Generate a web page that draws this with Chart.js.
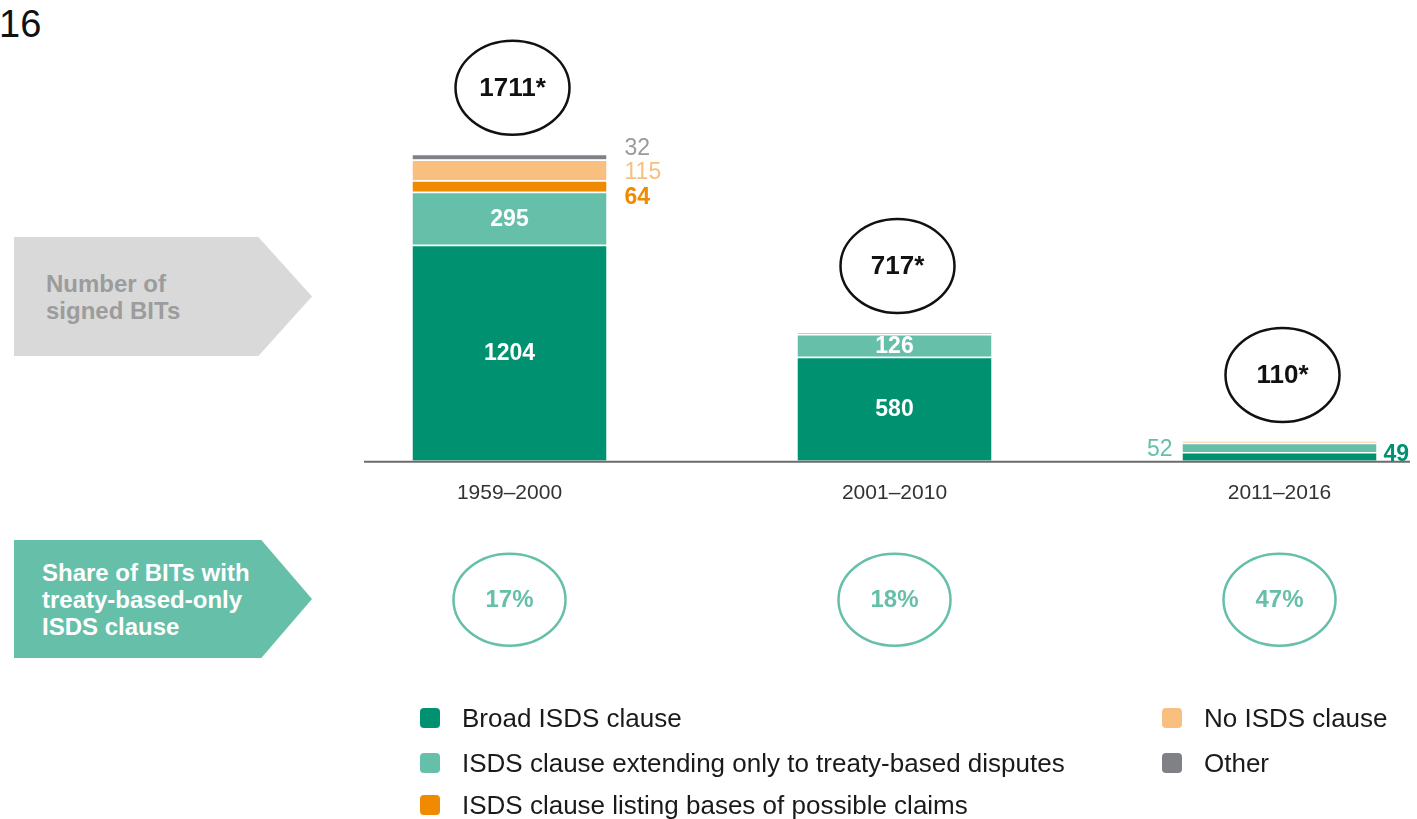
<!doctype html>
<html>
<head>
<meta charset="utf-8">
<title>Signed BITs by type of ISDS clause</title>
<script src="https://cdn.jsdelivr.net/npm/chart.js"></script>
<style>
  html,body{margin:0;padding:0;background:#fff;overflow:hidden}
  body{width:1417px;height:819px;position:relative;font-family:"Liberation Sans",Arial,sans-serif}
  #fignum{position:absolute;left:-1px;top:2px;font-size:38px;color:#111;line-height:44px}
  .tag{position:absolute;left:14px;width:298px;display:flex;align-items:center;box-sizing:border-box;font-weight:bold;font-size:24px;line-height:27px}
  #tagCount{top:237px;height:119px;padding-left:32px;background:#d9d9d9;color:#9c9c9c;clip-path:polygon(0 0,82% 0,100% 50%,82% 100%,0 100%)}
  #tagShare{top:540px;height:118px;padding-left:28px;background:#66bfa9;color:#fff;clip-path:polygon(0 0,83% 0,100% 50%,83% 100%,0 100%)}
  #wrap{position:absolute;left:317px;top:0;width:1160px;height:819px}
  .lg{position:absolute;font-size:26px;color:#1a1a1a;line-height:30px;white-space:nowrap}
  .lg i{position:absolute;left:-42px;top:5px;width:20px;height:20px;border-radius:4px}
</style>
</head>
<body>
<div id="fignum">16</div>
<div class="tag" id="tagCount">Number of<br>signed BITs</div>
<div class="tag" id="tagShare">Share of BITs with<br>treaty-based-only<br>ISDS clause</div>
<div id="wrap"><canvas id="c" width="1160" height="819"></canvas></div>
<div id="legend"></div>
<script>
const periods = ['1959–2000', '2001–2010', '2011–2016'];
const broadIsds = [1204, 580, 49];
const treatyOnly = [295, 126, 52];
const listingBases = [64, 0, 0];
const noIsds = [115, 11, 9];
const other = [32, 0, 0];
const totals = [1711, 717, 110];
const treatyOnlyShare = [17, 18, 47];

const seriesNames = ['Broad ISDS clause', 'ISDS clause extending only to treaty-based disputes',
  'ISDS clause listing bases of possible claims', 'No ISDS clause', 'Other'];
const colors = ['#009270', '#66bfa9', '#f08a00', '#f9bf7f', '#808184'];
const labelColors = ['#009270', '#66bfa9', '#f08a00', '#f9bf7f', '#9a9a9a'];

const FONT = '"Liberation Sans", Arial, sans-serif';

// legend (html, two columns)
const legendPos = [[462, 703], [462, 748], [462, 790], [1204, 703], [1204, 748]];
const legend = document.getElementById('legend');
seriesNames.forEach((name, i) => {
  const d = document.createElement('div');
  d.className = 'lg';
  d.style.left = legendPos[i][0] + 'px';
  d.style.top = legendPos[i][1] + 'px';
  d.innerHTML = '<i style="background:' + colors[i] + '"></i>' + name;
  legend.appendChild(d);
});

function stackTop(chart, idx) {
  let top = Infinity;
  chart.data.datasets.forEach((ds, di) => {
    const el = chart.getDatasetMeta(di).data[idx];
    if (el && ds.data[idx] > 0) top = Math.min(top, el.y);
  });
  return top;
}

const extras = {
  id: 'extras',
  afterDatasetsDraw(chart) {
    const ctx = chart.ctx;
    const area = chart.chartArea;
    ctx.save();

    // baseline
    ctx.strokeStyle = '#6b6b6b';
    ctx.lineWidth = 2;
    ctx.beginPath();
    ctx.moveTo(area.left + 47, area.bottom + 1);
    ctx.lineTo(area.left + 1093, area.bottom + 1);
    ctx.stroke();

    ctx.textBaseline = 'middle';
    // segment labels
    chart.data.datasets.forEach((ds, di) => {
      chart.getDatasetMeta(di).data.forEach((bar, i) => {
        const v = ds.data[i];
        if (!v) return;
        const h = bar.base - bar.y;
        const cy = (bar.y + bar.base) / 2;
        const half = bar.width / 2;
        if (di < 2 && h > 16) {
          ctx.fillStyle = '#fff';
          ctx.font = 'bold 23px ' + FONT;
          ctx.textAlign = 'center';
          ctx.fillText(v, bar.x, cy + 1);
        } else if (i === 0) {
          const shift = [0, 0, 12, 3, -8][di];
          ctx.fillStyle = labelColors[di];
          ctx.font = (di === 2 ? 'bold ' : '') + '23px ' + FONT;
          ctx.textAlign = 'left';
          ctx.fillText(v, bar.x + half + 18, cy + shift);
        } else if (di === 0) {
          ctx.fillStyle = labelColors[0];
          ctx.font = 'bold 23px ' + FONT;
          ctx.textAlign = 'left';
          ctx.fillText(v, bar.x + half + 7, cy - 2);
        } else if (di === 1) {
          ctx.fillStyle = labelColors[1];
          ctx.font = '23px ' + FONT;
          ctx.textAlign = 'right';
          ctx.fillText(v, bar.x - half - 10, cy + 2);
        }
      });
    });

    // totals in ellipses and shares in circles
    const meta = chart.getDatasetMeta(0);
    meta.data.forEach((bar, i) => {
      const ty = stackTop(chart, i) - 66;
      ctx.strokeStyle = '#111';
      ctx.lineWidth = 2.5;
      ctx.beginPath();
      ctx.ellipse(bar.x + 3, ty, 57, 47, 0, 0, Math.PI * 2);
      ctx.stroke();
      ctx.fillStyle = '#111';
      ctx.font = 'bold 26px ' + FONT;
      ctx.textAlign = 'center';
      ctx.fillText(totals[i] + '*', bar.x + 3, ty + 1);

      const sy = area.bottom + 139;
      ctx.strokeStyle = '#66bfa9';
      ctx.lineWidth = 2.5;
      ctx.beginPath();
      ctx.ellipse(bar.x, sy, 56, 46, 0, 0, Math.PI * 2);
      ctx.stroke();
      ctx.fillStyle = '#66bfa9';
      ctx.font = 'bold 24px ' + FONT;
      ctx.fillText(treatyOnlyShare[i] + '%', bar.x, sy + 1);
    });
    ctx.restore();
  }
};

const series = [broadIsds, treatyOnly, listingBases, noIsds, other];

new Chart(document.getElementById('c'), {
  type: 'bar',
  data: {
    labels: periods,
    datasets: series.map((d, i) => ({
      label: seriesNames[i],
      data: d,
      backgroundColor: colors[i],
      borderColor: '#ffffff',
      borderWidth: { top: 1.5, left: 0, right: 0, bottom: 0 },
      borderSkipped: false,
      categoryPercentage: 1,
      barPercentage: 0.504
    }))
  },
  options: {
    responsive: false,
    animation: false,
    layout: { padding: { top: 30, bottom: 293, left: 0, right: 5 } },
    plugins: { legend: { display: false }, tooltip: { enabled: false } },
    scales: {
      x: {
        stacked: true,
        grid: { display: false, drawTicks: false },
        border: { display: false },
        ticks: { color: '#333', font: { family: FONT, size: 21 }, padding: 20 }
      },
      y: { stacked: true, display: false, min: 0, max: 2400 }
    }
  },
  plugins: [extras]
});
</script>
</body>
</html>
